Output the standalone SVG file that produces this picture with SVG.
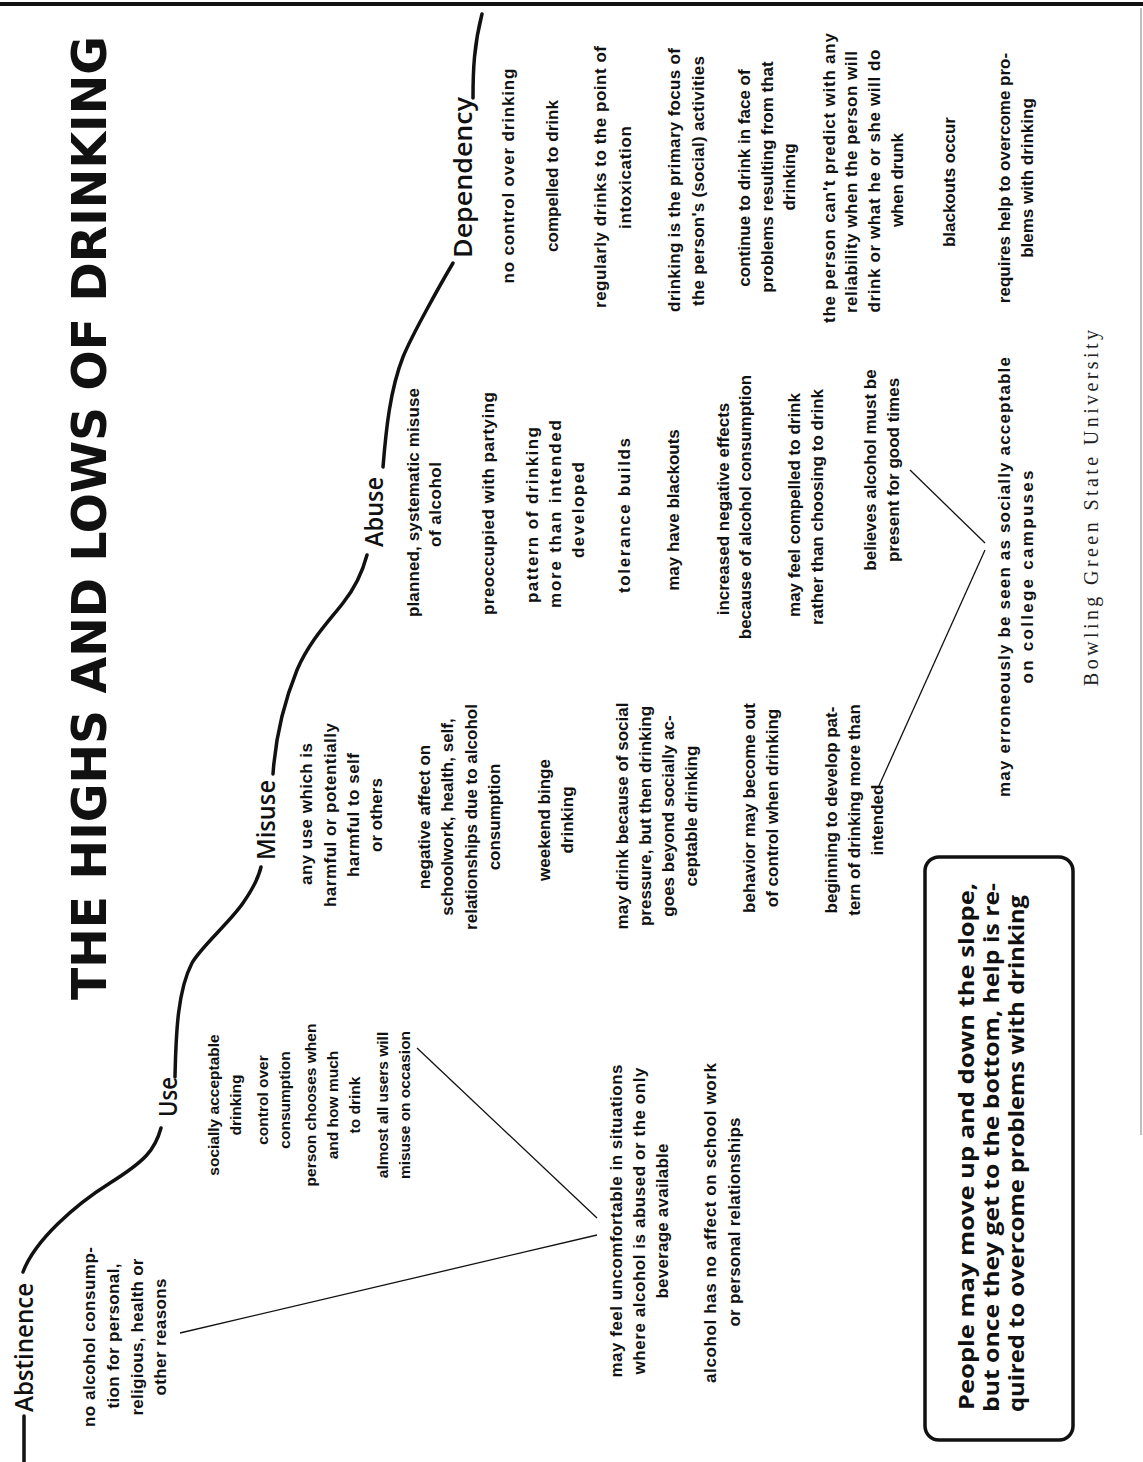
<svg xmlns="http://www.w3.org/2000/svg" width="1143" height="1462" viewBox="0 0 1143 1462">
<style>
.t{font-family:"Liberation Sans",Arial,sans-serif;font-weight:bold;font-size:17px;fill:#111;text-anchor:middle}
.s{font-size:15.5px}
.h{font-family:"Open Sans","Liberation Sans",sans-serif;font-weight:600;font-size:25px;fill:#111}
.ttl{font-family:"DejaVu Sans Condensed","DejaVu Sans",sans-serif;font-stretch:condensed;font-weight:bold;font-size:48px;fill:#111;text-anchor:middle}
.b{font-family:"Open Sans","Liberation Sans",sans-serif;font-weight:700;font-size:22px;fill:#111}
.ft{font-family:"Liberation Serif","Times New Roman",serif;font-size:20px;fill:#222}
.curve{fill:none;stroke:#111;stroke-width:3.5;stroke-linecap:round}
.thin{fill:none;stroke:#111;stroke-width:1.3}
</style>
<rect width="1143" height="1462" fill="#fff"/>
<line x1="0" y1="4" x2="1143" y2="4" stroke="#111" stroke-width="4"/>
<line x1="1141" y1="8" x2="1141" y2="1135" stroke="#aaa" stroke-width="1.5"/>
<g id="connectors">
<path class="curve" d="M24,1462 L24,1416"/>
<path class="curve" d="M23,1272 C35,1240 75,1205 110,1183 S155,1150 161,1128"/>
<path class="curve" d="M175,1077 C176,1030 178,990 192,963 C200,948 230,922 243,903 C252,890 258,880 261,867"/>
<path class="curve" d="M273,774 C275,745 280,712 297,670 C310,640 330,620 343,603 C355,588 363,570 367,555"/>
<path class="curve" d="M383,467 C386,430 390,390 403,357 C412,335 440,285 453,263"/>
<path class="curve" d="M473,98 C473,70 474,45 482,14"/>
<line class="thin" x1="180" y1="1333" x2="597" y2="1235"/>
<line class="thin" x1="417" y1="1048" x2="597" y2="1218"/>
<line class="thin" x1="910" y1="470" x2="985" y2="543"/>
<line class="thin" x1="878" y1="788" x2="985" y2="550"/>
</g>
<rect id="box" x="925" y="857" width="148" height="583" rx="14" fill="none" stroke="#111" stroke-width="3.5"/>
<g transform="translate(0,1462) rotate(-90)">
<g id="title"><text class="ttl" x="944" y="106" textLength="964" lengthAdjust="spacingAndGlyphs">THE HIGHS AND LOWS OF DRINKING</text></g>
<g id="abstinence">
<text class="h" x="50" y="33" textLength="129" lengthAdjust="spacingAndGlyphs">Abstinence</text>
<text class="t" x="125" y="95" textLength="180">no alcohol consump-</text>
<text class="t" x="126" y="119" textLength="145">tion for personal,</text>
<text class="t" x="125" y="143" textLength="157">religious, health or</text>
<text class="t" x="125" y="166" textLength="117">other reasons</text>
</g>
<g id="use">
<text class="h" x="345" y="177" textLength="40" lengthAdjust="spacingAndGlyphs">Use</text>
<text class="t s" x="357" y="219">socially acceptable</text>
<text class="t s" x="357" y="241">drinking</text>
<text class="t s" x="362" y="268">control over</text>
<text class="t s" x="362" y="290">consumption</text>
<text class="t s" x="357" y="316">person chooses when</text>
<text class="t s" x="357" y="338">and how much</text>
<text class="t s" x="357" y="360">to drink</text>
<text class="t s" x="357" y="388">almost all users will</text>
<text class="t s" x="357" y="410">misuse on occasion</text>
</g>
<g id="shared-use">
<text class="t" x="241" y="622" textLength="313">may feel uncomfortable in situations</text>
<text class="t" x="241" y="645" textLength="307">where alcohol is abused or the only</text>
<text class="t" x="241" y="668" textLength="155">beverage available</text>
<text class="t" x="239" y="716" textLength="320">alcohol has no affect on school work</text>
<text class="t" x="240" y="740" textLength="209">or personal relationships</text>
</g>
<g id="misuse">
<text class="h" x="602" y="275" textLength="80" lengthAdjust="spacingAndGlyphs">Misuse</text>
<text class="t" x="648" y="312" textLength="142">any use which is</text>
<text class="t" x="647" y="336" textLength="184">harmful or potentially</text>
<text class="t" x="647" y="359" textLength="124">harmful to self</text>
<text class="t" x="647" y="382" textLength="74">or others</text>
<text class="t" x="645" y="430">negative affect on</text>
<text class="t" x="645" y="453">schoolwork, health, self,</text>
<text class="t" x="645" y="477">relationships due to alcohol</text>
<text class="t" x="645" y="500">consumption</text>
<text class="t" x="642" y="550">weekend binge</text>
<text class="t" x="642" y="573">drinking</text>
<text class="t" x="646" y="628">may drink because of social</text>
<text class="t" x="646" y="651">pressure, but then drinking</text>
<text class="t" x="646" y="674">goes beyond socially ac-</text>
<text class="t" x="646" y="697">ceptable drinking</text>
<text class="t" x="654" y="755">behavior may become out</text>
<text class="t" x="654" y="778">of control when drinking</text>
<text class="t" x="652" y="837">beginning to develop pat-</text>
<text class="t" x="652" y="860">tern of drinking more than</text>
<text class="t" x="642" y="883">intended</text>
</g>
<g id="abuse">
<text class="h" x="915" y="383" textLength="70" lengthAdjust="spacingAndGlyphs">Abuse</text>
<text class="t" x="959.5" y="419" textLength="229">planned, systematic misuse</text>
<text class="t" x="957.5" y="441" textLength="85">of alcohol</text>
<text class="t" x="958.5" y="494" textLength="223">preoccupied with partying</text>
<text class="t" x="947" y="538" textLength="176">pattern of drinking</text>
<text class="t" x="948" y="561" textLength="188">more than intended</text>
<text class="t" x="952" y="584" textLength="96">developed</text>
<text class="t" x="946.5" y="630" textLength="155">tolerance builds</text>
<text class="t" x="952" y="679">may have blackouts</text>
<text class="t" x="953" y="729">increased negative effects</text>
<text class="t" x="955" y="751">because of alcohol consumption</text>
<text class="t" x="957" y="800">may feel compelled to drink</text>
<text class="t" x="955" y="823">rather than choosing to drink</text>
<text class="t" x="992" y="876">believes alcohol must be</text>
<text class="t" x="992" y="899">present for good times</text>
</g>
<g id="shared-abuse">
<text class="t" x="885" y="1010" textLength="440">may erroneously be seen as socially acceptable</text>
<text class="t" x="885" y="1033" textLength="213">on college campuses</text>
</g>
<g id="dependency">
<text class="h" x="1204" y="472" textLength="161" lengthAdjust="spacingAndGlyphs">Dependency</text>
<text class="t" x="1286" y="514" textLength="215">no control over drinking</text>
<text class="t" x="1286" y="558" textLength="152">compelled to drink</text>
<text class="t" x="1285" y="606" textLength="262">regularly drinks to the point of</text>
<text class="t" x="1284.5" y="631" textLength="103">intoxication</text>
<text class="t" x="1282" y="680" textLength="264">drinking is the primary focus of</text>
<text class="t" x="1281" y="704" textLength="250">the person's (social) activities</text>
<text class="t" x="1284" y="750">continue to drink in face of</text>
<text class="t" x="1285" y="773">problems resulting from that</text>
<text class="t" x="1285" y="795">drinking</text>
<text class="t" x="1284" y="835" textLength="290">the person can't predict with any</text>
<text class="t" x="1280" y="857" textLength="262">reliability when the person will</text>
<text class="t" x="1281" y="880" textLength="263">drink or what he or she will do</text>
<text class="t" x="1282" y="903" textLength="94">when drunk</text>
<text class="t" x="1280" y="955" textLength="130">blackouts occur</text>
<text class="t" x="1284" y="1010">requires help to overcome pro-</text>
<text class="t" x="1284" y="1033">blems with drinking</text>
</g>
<g id="note">
<text class="b" x="52" y="974" textLength="527" lengthAdjust="spacingAndGlyphs">People may move up and down the slope,</text>
<text class="b" x="50" y="999" textLength="529" lengthAdjust="spacingAndGlyphs">but once they get to the bottom, help is re-</text>
<text class="b" x="50" y="1024" textLength="517" lengthAdjust="spacingAndGlyphs">quired to overcome problems with drinking</text>
</g>
<g id="footer"><text class="ft" x="776" y="1098" textLength="356">Bowling Green State University</text></g>
</g>
</svg>
